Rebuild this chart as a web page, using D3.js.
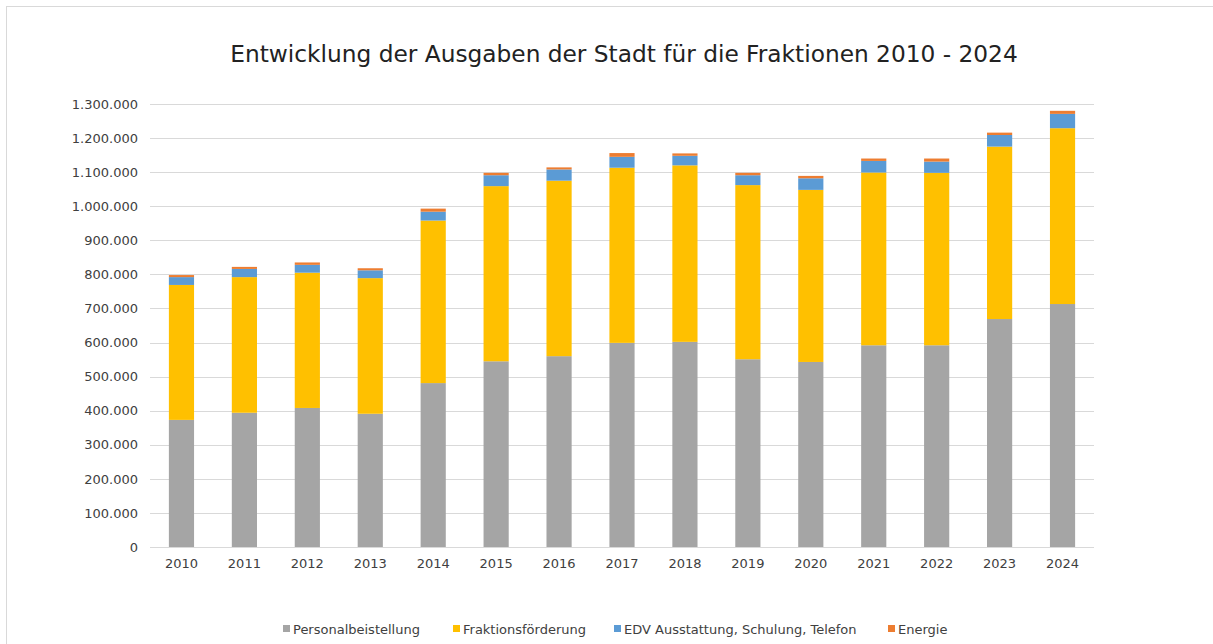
<!DOCTYPE html>
<html><head><meta charset="utf-8">
<script src="https://cdn.jsdelivr.net/npm/d3@7"></script>
<style>body{margin:0;background:#fff}svg{display:block}text{font-family:"DejaVu Sans",Verdana,sans-serif}</style>
</head><body>
<svg id="c" width="1213" height="644"></svg>
<script>
const years = ["2010","2011","2012","2013","2014","2015","2016","2017","2018","2019","2020","2021","2022","2023","2024"];
const personal = [373000,394000,408000,391000,481000,545000,560000,599000,602000,551000,543000,592000,592000,669000,713000];
const fraktion = [396000,398000,397000,398000,477000,514000,515000,514000,518000,511000,505000,507000,506000,506000,516000];
const edv = [23000,24000,23000,23000,26000,32000,33000,32000,28000,29000,34000,34000,33000,34000,42000];
const energie = [6000,6000,7000,6000,9000,7000,6000,11000,7000,7000,7000,7000,9000,7000,9000];
const seriesNames = ["Personalbeistellung","Fraktionsförderung","EDV Ausstattung, Schulung, Telefon","Energie"];
const colors = ["#A5A5A5","#FFC000","#5B9BD5","#ED7D31"];
const yTicks = [0,100000,200000,300000,400000,500000,600000,700000,800000,900000,1000000,1100000,1200000,1300000];
const title = "Entwicklung der Ausgaben der Stadt für die Fraktionen 2010 - 2024";

const svg = d3.select("#c");
svg.append("rect").attr("x",6.5).attr("y",6.5).attr("width",1300).attr("height",700)
  .attr("fill","#fff").attr("stroke","#D9D9D9");

const L=150,R=1094,T=104,B=547;
const x = d3.scaleBand().domain(years).range([L,R]).paddingInner(0.6).paddingOuter(0.3);
const y = d3.scaleLinear().domain([0,1300000]).range([B,T]);
const fmt = v => d3.format(",")(v).replace(/,/g,".");

svg.append("g").selectAll("line").data(yTicks.slice(1)).join("line")
  .attr("x1",L).attr("x2",R).attr("y1",d=>Math.round(y(d))+0.5).attr("y2",d=>Math.round(y(d))+0.5)
  .attr("stroke","#D9D9D9").attr("stroke-width",1);

const rows = years.map((yr,i)=>({year:yr, s0:personal[i], s1:fraktion[i], s2:edv[i], s3:energie[i]}));
const stack = d3.stack().keys(["s0","s1","s2","s3"])(rows);
svg.append("g").selectAll("g").data(stack).join("g").attr("fill",(d,i)=>colors[i])
  .selectAll("rect").data(d=>d).join("rect")
  .attr("x",d=>x(d.data.year)).attr("width",x.bandwidth())
  .attr("y",d=>y(d[1])).attr("height",d=>y(d[0])-y(d[1]));

svg.append("line").attr("x1",L).attr("x2",R).attr("y1",B+0.5).attr("y2",B+0.5).attr("stroke","#D9D9D9");

const yAxis = d3.axisLeft(y).tickValues(yTicks).tickFormat(fmt).tickSize(0).tickPadding(12);
const ga = svg.append("g").attr("transform",`translate(${L},0)`).call(yAxis);
ga.select(".domain").remove();
ga.selectAll("text").attr("font-size",13).attr("fill","#404040").attr("font-family","DejaVu Sans");

const xAxis = d3.axisBottom(x).tickSize(0).tickPadding(12);
const gx = svg.append("g").attr("transform",`translate(0,${B})`).call(xAxis);
gx.select(".domain").remove();
gx.selectAll("text").attr("font-size",13).attr("fill","#404040").attr("font-family","DejaVu Sans");

const t = svg.append("text").attr("x",624).attr("y",62).attr("text-anchor","middle")
  .attr("font-size",21).attr("fill","#222").text(title);
const tw = t.node().getComputedTextLength();
t.attr("font-size",21*788/tw);

const legX = [283,453,614,888];
const lg = svg.append("g").selectAll("g").data(seriesNames).join("g")
  .attr("transform",(d,i)=>`translate(${legX[i]},629)`);
lg.append("rect").attr("x",0).attr("y",-4).attr("width",7).attr("height",7).attr("fill",(d,i)=>colors[i]);
lg.append("text").attr("x",10).attr("y",5).attr("font-size",13).attr("fill","#404040").text(d=>d);
</script>
</body></html>
